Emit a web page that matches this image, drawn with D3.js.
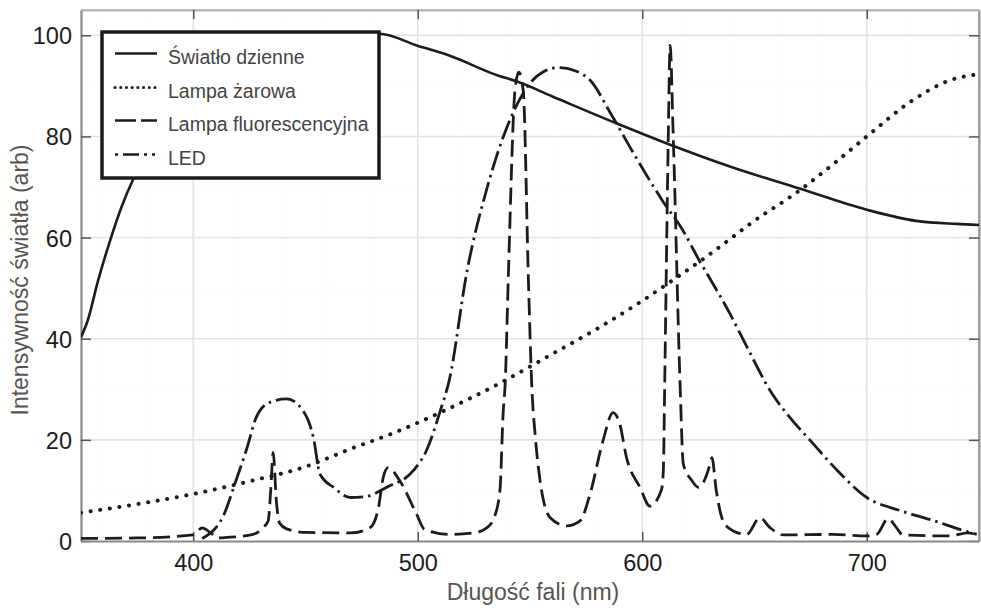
<!DOCTYPE html>
<html>
<head>
<meta charset="utf-8">
<script src="https://cdn.jsdelivr.net/npm/d3@7"></script>
<style>
  body { margin: 0; background: #fff; }
  text { font-family: "Liberation Sans", Arial, Helvetica, sans-serif; }
</style>
</head>
<body>
<svg id="chart"></svg>
<script>
// ---- data ----
const seriesNames = ['Światło dzienne', 'Lampa żarowa', 'Lampa fluorescencyjna', 'LED']

const wlDaylight = [350, 353, 357.6, 363.4, 368, 373, 380, 390, 400, 420, 440, 460, 483, 499.5, 514, 536, 544, 560, 589, 611, 640, 670, 700, 722, 740, 750]
const daylight   = [40.3, 43.6, 51.5, 60, 66, 71.3, 77, 83, 87, 93, 96.8, 99.3, 100.3, 98, 96, 92, 90.9, 87.9, 82.5, 78.6, 73.9, 69.7, 65.5, 63.3, 62.7, 62.5]

const wlIncandescent = [350, 375, 400, 425, 450, 470, 490, 510, 537, 560, 580, 600, 615, 626, 640, 648, 670, 685, 700, 720, 737, 750]
const incandescent   = [5.6, 7.3, 9.3, 11.8, 14.7, 18.2, 21.5, 25.4, 31.3, 37, 42, 47.5, 52, 55.4, 60, 62.7, 69.3, 74.5, 80, 87, 91.1, 92.3]

const wlFluorescent = [350, 375, 400, 404, 408, 411, 415, 426.6, 431, 433.4, 434.5, 435.6, 437, 438.5, 441.6, 450, 470, 478.7, 482.5, 484.6, 486.8, 492, 499.5, 503, 514, 525, 530.7, 534, 536.6, 538, 539, 540.3, 543.3, 545, 547, 549.3, 550.7, 552.5, 554.5, 559, 566.3, 572.3, 576.7, 582.5, 587, 590, 593, 599, 603.4, 608.6, 609.4, 610, 611.6, 612.4, 613.8, 616.8, 618.3, 622, 625, 630.2, 631, 633, 636, 640.5, 646.5, 652.4, 657, 662.8, 685, 700, 704.4, 709.5, 713.3, 716, 737, 745, 750]
const fluorescent   = [0.5, 0.6, 1.2, 2.6, 1.5, 0.6, 0.7, 1.3, 2.6, 4, 10, 17.5, 8, 3.5, 2.4, 1.7, 1.6, 2.6, 6.6, 12.5, 14.5, 11.9, 5.3, 2.3, 1.3, 1.6, 2.6, 4.6, 9.9, 25, 31.7, 51.5, 89, 92.7, 89, 51.5, 31.7, 20, 11.9, 4.6, 3, 4, 9.2, 19.8, 25.4, 23.1, 16.5, 10.6, 6.9, 10.2, 14, 31, 80, 98, 80, 31.7, 15.2, 12, 10.6, 15.2, 16.5, 9.9, 4, 2, 1.3, 4.6, 2.6, 1.2, 1.3, 1, 1.3, 4.4, 2.6, 1.2, 1, 1.6, 1]

const wlLed = [404, 410, 413, 419, 424, 428, 434, 441.6, 449, 453.5, 456.5, 462.5, 470, 477, 486, 498, 504, 510, 514, 522, 531, 541, 550, 556, 563, 570, 577, 586, 597, 609, 618, 626, 630, 639, 646.5, 658, 666, 675, 687, 700, 715, 730, 740, 749]
const led   = [0.5, 2.6, 4.6, 11.9, 18.5, 24.4, 27.4, 28.1, 25.7, 20.5, 13.2, 10.6, 8.6, 8.8, 10.6, 13.9, 18, 25.7, 31.7, 53.5, 70, 83.2, 90.5, 92.8, 93.6, 93, 91, 84.5, 76, 67.3, 61.5, 55, 52, 45, 38.5, 29, 24.3, 19.8, 13.9, 8.6, 6, 4, 2.5, 1.3]

const xTicks = [400, 500, 600, 700]
const yTicks = [0, 20, 40, 60, 80, 100]
const xMinor = [360, 380, 420, 440, 460, 480, 520, 540, 560, 580, 620, 640, 660, 680, 720, 740]
const yMinor = [10, 30, 50, 70, 90]

// ---- layout ----
const width = 981, height = 608
const margin = { left: 81, right: 2, top: 10, bottom: 67 }
const ink = '#1c1c1c'

const svg = d3.select('#chart').attr('width', width).attr('height', height)

const x = d3.scaleLinear().domain([350, 750]).range([margin.left, width - margin.right])
const y = d3.scaleLinear().domain([0, 105]).range([height - margin.bottom, margin.top])

const x0 = x.range()[0], x1 = x.range()[1]
const y0 = y.range()[0], y1 = y.range()[1]

svg.append('defs').append('clipPath').attr('id', 'plotClip')
  .append('rect').attr('x', x0).attr('y', y1).attr('width', x1 - x0).attr('height', y0 - y1)

// faint minor grid
svg.append('g')
  .selectAll('line')
  .data(xMinor)
  .join('line')
  .attr('x1', d => x(d)).attr('x2', d => x(d))
  .attr('y1', y1).attr('y2', y0)
  .attr('stroke', '#ececec').attr('stroke-width', 1).attr('stroke-dasharray', '1,7')
svg.append('g')
  .selectAll('line')
  .data(yMinor)
  .join('line')
  .attr('x1', x0).attr('x2', x1)
  .attr('y1', d => y(d)).attr('y2', d => y(d))
  .attr('stroke', '#ececec').attr('stroke-width', 1).attr('stroke-dasharray', '1,7')

// major grid
svg.append('g')
  .selectAll('line')
  .data(xTicks)
  .join('line')
  .attr('x1', d => x(d)).attr('x2', d => x(d))
  .attr('y1', y1).attr('y2', y0)
  .attr('stroke', '#e3e3e3').attr('stroke-width', 1.6)
svg.append('g')
  .selectAll('line')
  .data(yTicks.filter(d => d > 0))
  .join('line')
  .attr('x1', x0).attr('x2', x1)
  .attr('y1', d => y(d)).attr('y2', d => y(d))
  .attr('stroke', '#e3e3e3').attr('stroke-width', 1.6)

// frame
svg.append('line').attr('x1', x0).attr('x2', x1).attr('y1', y1).attr('y2', y1)
  .attr('stroke', '#b5b5b5').attr('stroke-width', 1.5)
svg.append('line').attr('x1', x1).attr('x2', x1).attr('y1', y1).attr('y2', y0)
  .attr('stroke', '#9a9a9a').attr('stroke-width', 1.5)

// axes: ticks inward, on all four sides
const axisLeft = d3.axisLeft(y).tickValues(yTicks).tickSizeInner(-10).tickSizeOuter(0).tickPadding(9)
const axisRight = d3.axisRight(y).tickValues(yTicks).tickSizeInner(-10).tickSizeOuter(0).tickFormat('')
const axisBottom = d3.axisBottom(x).tickValues(xTicks).tickSizeInner(-9).tickSizeOuter(0).tickPadding(13)
const axisTop = d3.axisTop(x).tickValues(xTicks).tickSizeInner(-9).tickSizeOuter(0).tickFormat('')

function styleAxis(g, col) {
  g.select('.domain').attr('stroke', col).attr('stroke-width', 2.2)
  g.selectAll('.tick line').attr('stroke', '#555').attr('stroke-width', 1.5)
  g.selectAll('.tick text').attr('fill', ink).style('font-size', '23.5px')
}

svg.append('g').attr('transform', `translate(${x1},0)`).call(axisRight)
  .call(g => styleAxis(g, '#9a9a9a'))
svg.append('g').attr('transform', `translate(0,${y1})`).call(axisTop)
  .call(g => styleAxis(g, '#b5b5b5'))
svg.append('g').attr('transform', `translate(${x0},0)`).call(axisLeft)
  .call(g => styleAxis(g, '#888'))
  .call(g => g.selectAll('.tick text').attr('dy', '0.36em'))
svg.append('g').attr('transform', `translate(0,${y0})`).call(axisBottom)
  .call(g => styleAxis(g, '#888'))

// axis titles
svg.append('text')
  .attr('x', 533).attr('y', 600)
  .attr('text-anchor', 'middle')
  .attr('fill', '#555').style('font-size', '23px')
  .text('Długość fali (nm)')
svg.append('text')
  .attr('transform', 'translate(28,280) rotate(-90)')
  .attr('text-anchor', 'middle')
  .attr('fill', '#555').style('font-size', '23px')
  .text('Intensywność światła (arb)')

// ---- lines ----
const toPts = (xs, ys) => xs.map((d, i) => ({ x: d, y: ys[i] }))
const series = [
  { name: seriesNames[0], pts: toPts(wlDaylight, daylight), dash: null, w: 2.6, cap: 'butt', legendDash: null },
  { name: seriesNames[1], pts: toPts(wlIncandescent, incandescent), dash: '0.1,9.6', w: 4, cap: 'round', legendDash: '0.1,5.6' },
  { name: seriesNames[2], pts: toPts(wlFluorescent, fluorescent), dash: '17,7', w: 2.8, cap: 'butt', legendDash: '21,5' },
  { name: seriesNames[3], pts: toPts(wlLed, led), dash: '20,5,2.5,5', w: 2.8, cap: 'butt', legendDash: '3,5,16,5,3,5' }
]

const line = d3.line()
  .x(d => x(d.x))
  .y(d => y(d.y))
  .curve(d3.curveMonotoneX)

svg.append('g')
  .attr('clip-path', 'url(#plotClip)')
  .selectAll('path')
  .data(series)
  .join('path')
  .attr('d', d => line(d.pts))
  .attr('fill', 'none')
  .attr('stroke', ink)
  .attr('stroke-width', d => d.w)
  .attr('stroke-linecap', d => d.cap)
  .attr('stroke-linejoin', 'round')
  .attr('stroke-dasharray', d => d.dash)

// ---- legend ----
const legend = svg.append('g')
legend.append('rect')
  .attr('x', 102).attr('y', 32).attr('width', 277).attr('height', 146)
  .attr('fill', '#fff').attr('stroke', ink).attr('stroke-width', 3.5)

const rows = legend.selectAll('g.row')
  .data(series)
  .join('g')
  .attr('class', 'row')
  .attr('transform', (d, i) => `translate(0,${[53.5, 87.5, 120.5, 154.5][i]})`)

rows.append('line')
  .attr('x1', 115).attr('x2', 157)
  .attr('stroke', ink)
  .attr('stroke-width', d => d.name === seriesNames[1] ? 3 : 2.6)
  .attr('stroke-linecap', d => d.cap)
  .attr('stroke-dasharray', d => d.legendDash)

rows.append('text')
  .attr('x', 168).attr('y', 10)
  .attr('fill', '#444')
  .style('font-size', '19.5px')
  .text(d => d.name)
</script>
</body>
</html>
